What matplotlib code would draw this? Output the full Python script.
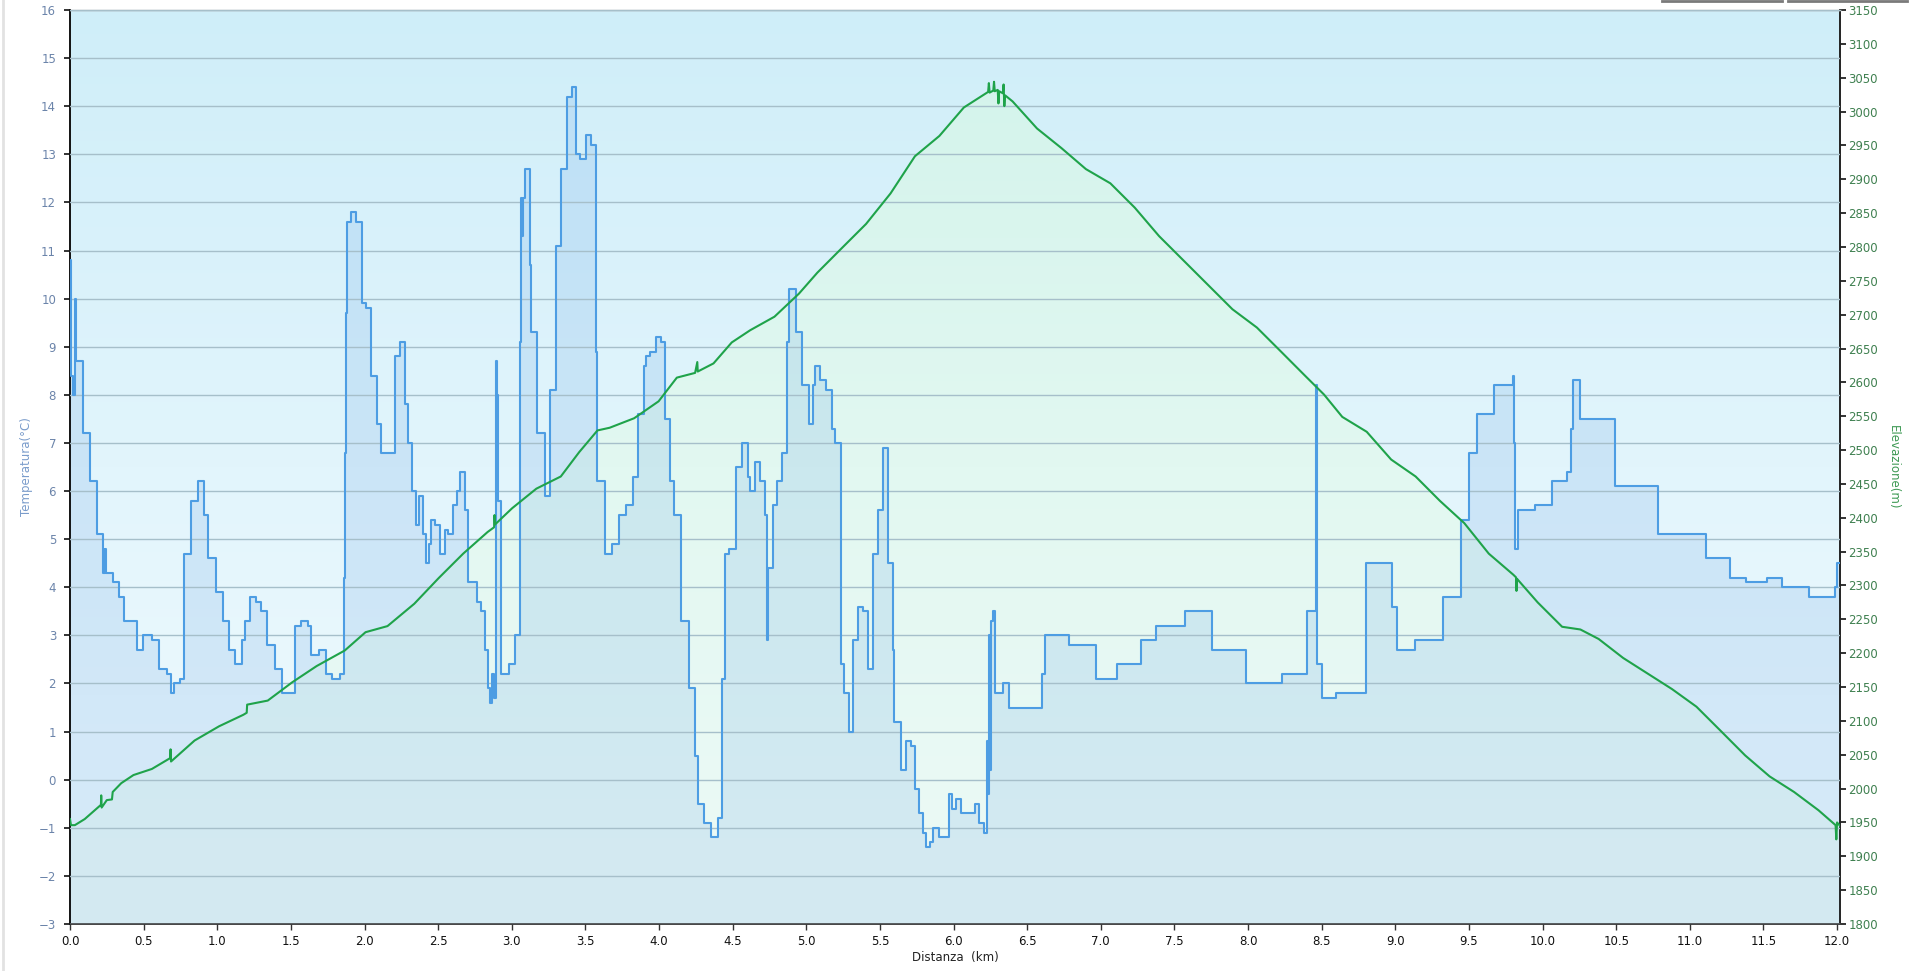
import matplotlib
matplotlib.use("Agg")
import matplotlib.pyplot as plt
from matplotlib.colors import LinearSegmentedColormap
from matplotlib.lines import Line2D
import numpy as np

# temperature track (step values, km -> degC)
temp_km = [0.000, 0.004, 0.008, 0.018, 0.034, 0.042, 0.090, 0.136, 0.181, 0.222,
           0.228, 0.234, 0.240, 0.246, 0.294, 0.335, 0.369, 0.452, 0.498, 0.554,
           0.604, 0.656, 0.683, 0.706, 0.746, 0.776, 0.819, 0.868, 0.909, 0.938,
           0.990, 1.036, 1.081, 1.122, 1.167, 1.187, 1.221, 1.266, 1.294, 1.339,
           1.391, 1.438, 1.526, 1.572, 1.617, 1.640, 1.689, 1.737, 1.782, 1.832,
           1.859, 1.866, 1.872, 1.877, 1.882, 1.906, 1.940, 1.980, 2.008, 2.047,
           2.087, 2.114, 2.205, 2.239, 2.273, 2.295, 2.322, 2.347, 2.368, 2.397,
           2.420, 2.436, 2.454, 2.476, 2.510, 2.544, 2.567, 2.601, 2.628, 2.646,
           2.680, 2.702, 2.763, 2.793, 2.815, 2.838, 2.849, 2.865, 2.876, 2.890,
           2.898, 2.906, 2.929, 2.980, 3.020, 3.053, 3.064, 3.070, 3.076, 3.087,
           3.121, 3.132, 3.171, 3.223, 3.257, 3.298, 3.332, 3.375, 3.410, 3.437,
           3.460, 3.505, 3.539, 3.573, 3.578, 3.630, 3.681, 3.731, 3.776, 3.826,
           3.860, 3.901, 3.912, 3.942, 3.980, 4.014, 4.044, 4.075, 4.105, 4.150,
           4.202, 4.245, 4.263, 4.304, 4.353, 4.398, 4.428, 4.450, 4.478, 4.523,
           4.564, 4.602, 4.621, 4.650, 4.688, 4.722, 4.732, 4.740, 4.772, 4.801,
           4.835, 4.867, 4.885, 4.930, 4.971, 5.016, 5.043, 5.061, 5.093, 5.134,
           5.174, 5.197, 5.235, 5.258, 5.288, 5.319, 5.349, 5.383, 5.417, 5.451,
           5.484, 5.518, 5.552, 5.586, 5.597, 5.642, 5.676, 5.710, 5.739, 5.766,
           5.794, 5.812, 5.839, 5.862, 5.898, 5.970, 5.993, 6.020, 6.050, 6.146,
           6.174, 6.208, 6.230, 6.236, 6.242, 6.248, 6.256, 6.266, 6.280, 6.336,
           6.377, 6.603, 6.621, 6.784, 6.965, 7.108, 7.275, 7.377, 7.571, 7.752,
           7.987, 8.233, 8.403, 8.463, 8.470, 8.505, 8.596, 8.803, 8.975, 9.013,
           9.135, 9.323, 9.445, 9.500, 9.558, 9.668, 9.801, 9.806, 9.812, 9.832,
           9.948, 10.062, 10.166, 10.191, 10.210, 10.251, 10.490, 10.785, 11.112, 11.274,
           11.383, 11.523, 11.625, 11.812, 11.989, 12.000, 12.020]
temp_c = [10.8, 9.7, 8.4, 8.0, 10.0, 8.7, 7.2, 6.2, 5.1, 4.3,
          4.8, 4.3, 4.8, 4.3, 4.1, 3.8, 3.3, 2.7, 3.0, 2.9,
          2.3, 2.2, 1.8, 2.0, 2.1, 4.7, 5.8, 6.2, 5.5, 4.6,
          3.9, 3.3, 2.7, 2.4, 2.9, 3.3, 3.8, 3.7, 3.5, 2.8,
          2.3, 1.8, 3.2, 3.3, 3.2, 2.6, 2.7, 2.2, 2.1, 2.2,
          4.2, 6.8, 8.3, 9.7, 11.6, 11.8, 11.6, 9.9, 9.8, 8.4,
          7.4, 6.8, 8.8, 9.1, 7.8, 7.0, 6.0, 5.3, 5.9, 5.1,
          4.5, 4.9, 5.4, 5.3, 4.7, 5.2, 5.1, 5.7, 6.0, 6.4,
          5.6, 4.1, 3.7, 3.5, 2.7, 1.9, 1.6, 2.2, 1.7, 8.7,
          8.0, 5.8, 2.2, 2.4, 3.0, 9.1, 12.1, 11.3, 12.1, 12.7,
          10.7, 9.3, 7.2, 5.9, 8.1, 11.1, 12.7, 14.2, 14.4, 13.0,
          12.9, 13.4, 13.2, 8.9, 6.2, 4.7, 4.9, 5.5, 5.7, 6.3,
          7.6, 8.6, 8.8, 8.9, 9.2, 9.1, 7.5, 6.2, 5.5, 3.3,
          1.9, 0.5, -0.5, -0.9, -1.2, -0.8, 2.1, 4.7, 4.8, 6.5,
          7.0, 6.3, 6.0, 6.6, 6.2, 5.5, 2.9, 4.4, 5.7, 6.2,
          6.8, 9.1, 10.2, 9.3, 8.2, 7.4, 8.2, 8.6, 8.3, 8.1,
          7.3, 7.0, 2.4, 1.8, 1.0, 2.9, 3.6, 3.5, 2.3, 4.7,
          5.6, 6.9, 4.5, 2.7, 1.2, 0.2, 0.8, 0.7, -0.2, -0.7,
          -1.1, -1.4, -1.3, -1.0, -1.2, -0.3, -0.6, -0.4, -0.7, -0.5,
          -0.9, -1.1, 0.8, -0.3, 3.0, 0.2, 3.3, 3.5, 1.8, 2.0,
          1.5, 2.2, 3.0, 2.8, 2.1, 2.4, 2.9, 3.2, 3.5, 2.7,
          2.0, 2.2, 3.5, 8.2, 2.4, 1.7, 1.8, 4.5, 3.6, 2.7,
          2.9, 3.8, 5.4, 6.8, 7.6, 8.2, 8.4, 7.0, 4.8, 5.6,
          5.7, 6.2, 6.4, 7.3, 8.3, 7.5, 6.1, 5.1, 4.6, 4.2,
          4.1, 4.2, 4.0, 3.8, 4.0, 4.5, 4.5]

# elevation track (km -> m)
elev_km = [0.000, 0.005, 0.008, 0.033, 0.100, 0.210, 0.212, 0.215, 0.250, 0.285,
           0.290, 0.348, 0.431, 0.556, 0.680, 0.683, 0.686, 0.846, 1.012, 1.177,
           1.200, 1.203, 1.343, 1.509, 1.675, 1.866, 2.007, 2.156, 2.338, 2.504,
           2.670, 2.836, 2.880, 2.883, 2.886, 3.002, 3.167, 3.333, 3.458, 3.582,
           3.665, 3.831, 3.997, 4.121, 4.245, 4.260, 4.263, 4.370, 4.494, 4.619,
           4.784, 4.950, 5.075, 5.240, 5.406, 5.572, 5.738, 5.904, 6.070, 6.235,
           6.240, 6.245, 6.270, 6.275, 6.280, 6.300, 6.305, 6.310, 6.335, 6.340,
           6.345, 6.350, 6.401, 6.567, 6.733, 6.899, 7.065, 7.231, 7.396, 7.562,
           7.728, 7.894, 8.060, 8.226, 8.391, 8.516, 8.640, 8.806, 8.972, 9.138,
           9.303, 9.469, 9.635, 9.801, 9.820, 9.823, 9.826, 9.967, 10.133, 10.257,
           10.381, 10.547, 10.713, 10.879, 11.045, 11.211, 11.376, 11.542, 11.708, 11.874,
           11.990, 11.995, 12.000, 12.020]
elev_m = [1955, 1948, 1946, 1946, 1955, 1976, 1990, 1972, 1983, 1984,
          1995, 2008, 2020, 2029, 2045, 2058, 2040, 2071, 2092, 2109,
          2112, 2124, 2130, 2157, 2181, 2204, 2231, 2240, 2273, 2311,
          2347, 2379, 2386, 2404, 2390, 2414, 2443, 2461, 2497, 2529,
          2533, 2547, 2572, 2607, 2614, 2630, 2616, 2628, 2659, 2677,
          2697, 2731, 2762, 2798, 2834, 2879, 2934, 2964, 3006, 3029,
          3042, 3028, 3031, 3044, 3030, 3032, 3012, 3030, 3027, 3040,
          3008, 3024, 3015, 2975, 2946, 2915, 2894, 2858, 2816, 2780,
          2744, 2708, 2681, 2645, 2609, 2582, 2549, 2527, 2486, 2461,
          2425, 2392, 2347, 2316, 2312, 2292, 2310, 2275, 2239, 2235,
          2221, 2193, 2170, 2147, 2121, 2085, 2049, 2018, 1995, 1968,
          1946, 1925, 1950, 1945]

temp_ticks = list(range(-3, 17))
elev_ticks = list(range(1800, 3151, 50))
km_ticks = [0.0, 0.5, 1.0, 1.5, 2.0, 2.5, 3.0, 3.5, 4.0, 4.5, 5.0, 5.5, 6.0,
            6.5, 7.0, 7.5, 8.0, 8.5, 9.0, 9.5, 10.0, 10.5, 11.0, 11.5, 12.0]

x_max = 12.02

fig = plt.figure(figsize=(19.12, 9.71), dpi=100)
fig.patch.set_facecolor("white")
ax1 = fig.add_axes([70 / 1912, 1 - 924 / 971, 1770 / 1912, 914 / 971])
ax2 = ax1.twinx()
ax1.set_zorder(ax2.get_zorder() + 1)
ax1.patch.set_visible(False)

# background gradient (behind everything)
bg_cmap = LinearSegmentedColormap.from_list("bg", ["#f2fbfe", "#e2f5fc", "#cfeef9"])
grad = np.linspace(0, 1, 256).reshape(-1, 1)
ax2.imshow(grad, cmap=bg_cmap, aspect="auto", origin="lower",
           extent=[0, 1, 0, 1], transform=ax2.transAxes, zorder=0)

# elevation area with a vertical gradient
poly = ax2.fill_between(elev_km, elev_m, 1800, color="none", lw=0)
el_cmap = LinearSegmentedColormap.from_list("el", ["#edfaf6", "#e2f8f1", "#d2f3eb"])
im = ax2.imshow(grad, cmap=el_cmap, aspect="auto", origin="lower",
                extent=[0, x_max, 1800, 3150], zorder=1)
im.set_clip_path(poly.get_paths()[0], transform=ax2.transData)
ax2.set_xlim(0, x_max)
ax2.set_ylim(1800, 3150)
ax2.set_yticks(elev_ticks)
ax2.tick_params(axis="y", colors="#111111", labelcolor="#3f8050", labelsize=8.5,
                length=4, width=1.2, direction="out", pad=2)
ax2.set_ylabel("Elevazione(m)", color="#3f9a55", fontsize=8.5, rotation=270)
ax2.yaxis.set_label_coords(1.034, 0.5)

# temperature
ax1.fill_between(temp_km, temp_c, -3, step="post", color="#4a8fe0", alpha=0.15,
                 lw=0, zorder=2)
ax1.step(temp_km, temp_c, where="post", color="#4d9de3", lw=1.5, zorder=4)
ax1.set_xlim(0, x_max)
ax1.set_ylim(-3, 16)
ax1.set_yticks(temp_ticks)
ax1.set_xticks(km_ticks)
ax1.set_xticklabels([f"{v:.1f}" for v in km_ticks])
ax1.grid(axis="y", color="#a6bfca", lw=1.0, zorder=3)
ax1.set_axisbelow(False)
ax1.tick_params(axis="y", colors="#111111", labelcolor="#6b84aa", labelsize=8.5,
                length=4, width=1.2, direction="out", pad=6)
ax1.tick_params(axis="x", colors="#333333", labelcolor="#111111", labelsize=8.5,
                length=4, width=1.0, direction="out", pad=4)
ax1.set_ylabel("Temperatura(°C)", color="#7a9ccb", fontsize=8.5)
ax1.yaxis.set_label_coords(-0.021, 0.5)
ax1.set_xlabel("Distanza  (km)", color="#222222", fontsize=8.5)
ax1.xaxis.set_label_coords(0.5, -0.03)

# elevation line on top layer
ax3 = ax1.twinx()
ax3.set_zorder(ax1.get_zorder() + 1)
ax3.patch.set_visible(False)
ax3.plot(elev_km, elev_m, color="#1fa34a", lw=1.5)
ax3.set_ylim(1800, 3150)
ax3.set_xlim(0, x_max)
ax3.set_yticks([])
for s in ax3.spines.values():
    s.set_visible(False)

for a in (ax1, ax2):
    a.spines["left"].set_color("#111111")
    a.spines["left"].set_linewidth(1.2)
    a.spines["right"].set_color("#222222")
    a.spines["right"].set_linewidth(1.2)
    a.spines["bottom"].set_color("#444444")
    a.spines["bottom"].set_linewidth(1.2)
    a.spines["top"].set_color("#b8c4c8")
    a.spines["top"].set_linewidth(1.0)

# leftover page decorations
fig.add_artist(Line2D([3 / 1912, 3 / 1912], [0, 1], color="#e2e2e2", lw=2))
fig.add_artist(Line2D([1662 / 1912, 1782 / 1912], [0.999, 0.999], color="#7a7a7a", lw=2))
fig.add_artist(Line2D([1788 / 1912, 1907 / 1912], [0.999, 0.999], color="#7a7a7a", lw=2))

fig.savefig("out.png", dpi=100)
